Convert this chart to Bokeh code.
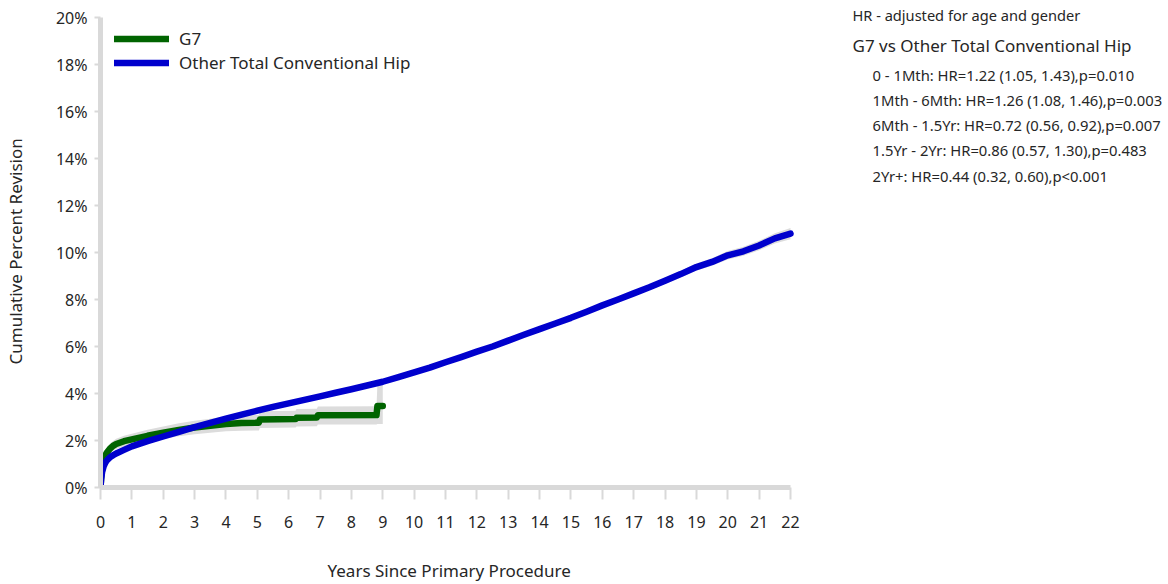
from bokeh.plotting import figure
from bokeh.models import Range1d, FixedTicker, PrintfTickFormatter, ColumnDataSource, Label, Title
from bokeh.embed import file_html
from bokeh.resources import INLINE

# ---------------- data ----------------
g7_years = [0, 0.02, 0.05, 0.1, 0.15, 0.2, 0.3, 0.4, 0.5, 0.75, 1.0, 1.5, 2.0, 2.5, 3.0, 3.5, 4.0, 4.5,
            5.05, 5.08, 6.22, 6.25, 6.9, 6.93, 8.8, 8.83, 9.0]
g7_cum = [0, 0.4, 0.8, 1.15, 1.35, 1.48, 1.65, 1.77, 1.85, 1.97, 2.05, 2.2, 2.33, 2.45, 2.55, 2.63, 2.7, 2.74,
          2.76, 2.89, 2.91, 2.97, 2.98, 3.07, 3.08, 3.47, 3.47]
g7_lower = [0, 0.3, 0.65, 0.98, 1.17, 1.3, 1.46, 1.57, 1.64, 1.75, 1.82, 1.95, 2.07, 2.18, 2.27, 2.33, 2.39, 2.42,
            2.43, 2.53, 2.55, 2.6, 2.61, 2.68, 2.68, 2.7, 2.7]
g7_upper = [0, 0.5, 0.95, 1.33, 1.53, 1.67, 1.85, 1.98, 2.07, 2.2, 2.29, 2.46, 2.6, 2.73, 2.84, 2.93, 3.01, 3.06,
            3.09, 3.25, 3.27, 3.34, 3.35, 3.45, 3.46, 4.42, 4.42]

oth_years = [0, 0.02, 0.05, 0.1, 0.15, 0.2, 0.3, 0.4, 0.5, 0.75,
             1, 1.5, 2, 2.5, 3, 3.5, 4, 4.5, 5, 5.5, 6, 6.5, 7, 7.5, 8, 8.5, 9, 9.5, 10, 10.5,
             11, 11.5, 12, 12.5, 13, 13.5, 14, 14.5, 15, 15.5, 16, 16.5, 17, 17.5, 18, 18.5,
             19, 19.5, 20, 20.5, 21, 21.5, 22]
oth_cum = [0, 0.35, 0.65, 0.9, 1.05, 1.15, 1.28, 1.37, 1.45, 1.6,
           1.75, 1.97, 2.17, 2.37, 2.57, 2.75, 2.93, 3.1, 3.27, 3.43, 3.58, 3.73, 3.88, 4.03, 4.18, 4.34, 4.5, 4.7, 4.9, 5.1,
           5.33, 5.55, 5.78, 6.0, 6.25, 6.5, 6.74, 6.98, 7.22, 7.48, 7.75, 8.0, 8.26, 8.52, 8.8, 9.08,
           9.38, 9.6, 9.88, 10.05, 10.3, 10.6, 10.8]
oth_ci_half = [0, 0.03, 0.03, 0.04, 0.04, 0.04, 0.04, 0.04, 0.04, 0.04,
               0.04, 0.04, 0.05, 0.05, 0.05, 0.05, 0.05, 0.05, 0.05, 0.05, 0.05, 0.05, 0.06, 0.06, 0.06, 0.06, 0.06, 0.07, 0.07, 0.07,
               0.07, 0.08, 0.08, 0.08, 0.09, 0.09, 0.09, 0.1, 0.1, 0.1, 0.11, 0.11, 0.12, 0.12, 0.13, 0.14,
               0.15, 0.16, 0.18, 0.19, 0.2, 0.22, 0.24]
oth_lower = [c - h for c, h in zip(oth_cum, oth_ci_half)]
oth_upper = [c + h for c, h in zip(oth_cum, oth_ci_half)]

series_names = ["G7", "Other Total Conventional Hip"]
series_colors = ["#006400", "#0000CD"]

x_ticks = list(range(0, 23))
y_ticks = list(range(0, 21, 2))
x_title = "Years Since Primary Procedure"
y_title = "Cumulative Percent Revision"

hr_title = "HR - adjusted for age and gender"
hr_heading = "G7 vs Other Total Conventional Hip"
hr_lines = [
    "0 - 1Mth: HR=1.22 (1.05, 1.43),p=0.010",
    "1Mth - 6Mth: HR=1.26 (1.08, 1.46),p=0.003",
    "6Mth - 1.5Yr: HR=0.72 (0.56, 0.92),p=0.007",
    "1.5Yr - 2Yr: HR=0.86 (0.57, 1.30),p=0.483",
    "2Yr+: HR=0.44 (0.32, 0.60),p<0.001",
]

FONT = "Noto Sans"
TXT = "#262626"
AXIS_GREY = "#d9d9d9"
BAND_GREY = "#dcdcdc"

# ---------------- layout constants (pixels) ----------------
W, H = 1166, 582
BL, BT, BB = 100, 0, 95          # frame spans to the right edge and top edge
FW, FH = W - BL, H - BT - BB     # frame size in px
X0, X1, Y0, Y1 = 0, 22, 0, 20    # data extent of the drawn axes
AX_W_PX, AX_H_PX = 690, 470      # pixel length of the x axis (0..22) and y axis (0..20)
X_END = X0 + (X1 - X0) * FW / AX_W_PX
Y_END = Y0 + (Y1 - Y0) * FH / AX_H_PX


def px_x(px):
    """page pixel column -> data x (for placing side annotations)"""
    return X0 + (px - 1 - BL) / AX_W_PX * (X1 - X0)


def px_y(py):
    """page pixel row -> data y (for placing side annotations)"""
    return Y0 + (BT + FH - (py - 1)) / AX_H_PX * (Y1 - Y0)


# ---------------- main plot ----------------
p = figure(width=W, height=H, output_backend="svg", toolbar_location=None,
           x_range=Range1d(X0, X_END), y_range=Range1d(Y0, Y_END),
           min_border_left=BL, min_border_right=0, min_border_top=BT, min_border_bottom=BB)
p.outline_line_color = None
p.grid.visible = False
p.background_fill_color = "white"

g7_src = ColumnDataSource(dict(x=g7_years, y=g7_cum, lo=g7_lower, hi=g7_upper))
oth_src = ColumnDataSource(dict(x=oth_years, y=oth_cum, lo=oth_lower, hi=oth_upper))

p.varea(x="x", y1="lo", y2="hi", source=g7_src, fill_color=BAND_GREY)
p.varea(x="x", y1="lo", y2="hi", source=oth_src, fill_color=BAND_GREY)

p.line(x="x", y="y", source=g7_src, line_color=series_colors[0], line_width=6.5,
       line_join="round", line_cap="round", legend_label=series_names[0])
p.line(x="x", y="y", source=oth_src, line_color=series_colors[1], line_width=6.5,
       line_join="round", line_cap="round", legend_label=series_names[1])

xa = p.xaxis[0]
ya = p.yaxis[0]
xa.bounds = (X0, X1)
ya.bounds = (Y0, Y1)
xa.ticker = FixedTicker(ticks=x_ticks)
ya.ticker = FixedTicker(ticks=y_ticks)
ya.formatter = PrintfTickFormatter(format="%d%%")
for ax in (xa, ya):
    ax.axis_line_color = AXIS_GREY
    ax.axis_line_width = 5
    ax.major_tick_line_color = AXIS_GREY
    ax.major_tick_line_width = 2
    ax.major_tick_in = 0
    ax.minor_tick_line_color = None
    ax.major_label_text_font = FONT
    ax.major_label_text_font_size = "16px"
    ax.major_label_text_color = TXT
    # blank axis label used only as a spacer in front of the positioned titles
    ax.axis_label = " "
    ax.axis_label_text_font = FONT
    ax.axis_label_text_font_size = "17px"
    ax.axis_label_text_font_style = "normal"
xa.major_tick_out = 12
xa.major_label_standoff = 16
xa.axis_label_standoff = 0
ya.major_tick_out = 6
ya.major_label_standoff = 7
ya.axis_label_standoff = 0

# axis titles as side-panel titles, positioned along the bounded axes
p.add_layout(Title(text=x_title, align="left", offset=227, text_font=FONT, text_font_size="17px",
                   text_font_style="normal", text_color=TXT, standoff=0), "below")
p.add_layout(Title(text=y_title, align="left", offset=123, text_font=FONT, text_font_size="17px",
                   text_font_style="normal", text_color=TXT, standoff=0), "left")

lg = p.legend[0]
lg.location = (14, 413)
lg.margin = 0
lg.padding = 0
lg.spacing = 1
lg.glyph_width = 55
lg.glyph_height = 23
lg.label_standoff = 10
lg.border_line_color = None
lg.background_fill_alpha = 0
lg.label_text_font = FONT
lg.label_text_font_size = "17px"
lg.label_text_color = TXT


# ---------------- side annotations (hazard ratios) ----------------
def add_label(text, px, py, size):
    p.add_layout(Label(x=px_x(px), y=px_y(py), text=text, text_font=FONT, text_font_size=size,
                       text_color=TXT, text_baseline="middle", text_align="left"))


add_label(hr_title, 853, 15, "14.6px")
add_label(hr_heading, 853, 46, "17px")
for line_text, row_y in zip(hr_lines, [75, 100, 125, 150, 176]):
    add_label(line_text, 873, row_y, "14.8px")

open("out.html", "w").write(file_html(p, INLINE))
